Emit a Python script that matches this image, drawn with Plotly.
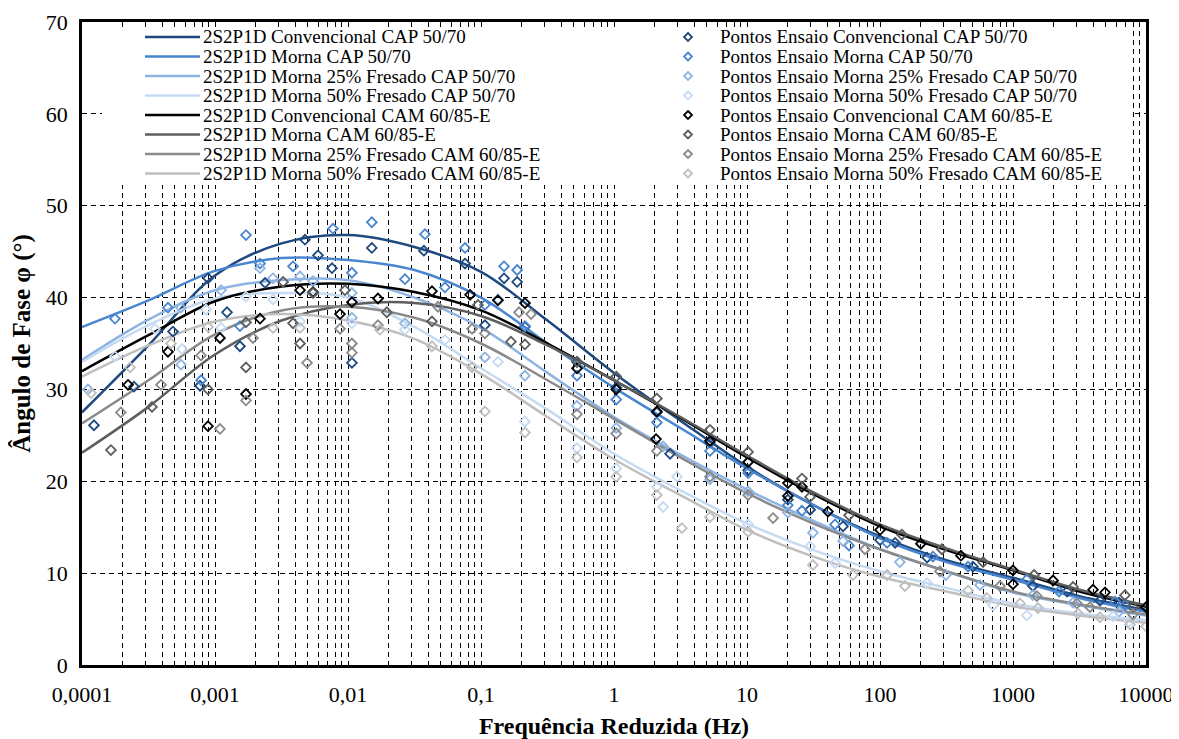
import plotly.graph_objects as go

# ---------------- data ----------------
# model curves (2S2P1D) evaluated at frequencies (Hz)
curve_freq = [1e-4, 3.16e-4, 1e-3, 3.16e-3, 1e-2, 3.16e-2, 1e-1, 3.16e-1, 1, 3.16, 10,
              31.6, 100, 316, 1000, 3160, 10000]
c_conv_cap = [27.5, 34.8, 42.4, 45.9, 46.8, 45.5, 42.8, 37.5, 31.8, 26.6, 21.6, 17.4, 14.0, 11.4, 9.5, 7.5, 6.0]
c_morna_cap = [36.8, 39.7, 42.9, 44.3, 44.1, 43.0, 40.0, 35.0, 30.2, 25.8, 21.4, 17.4, 13.8, 11.2, 9.3, 7.3, 5.8]
c_m25_cap = [33.2, 37.6, 40.8, 41.9, 41.9, 40.0, 36.7, 31.8, 27.0, 22.9, 19.1, 15.7, 12.6, 10.2, 7.9, 6.5, 5.4]
c_m50_cap = [33.0, 37.0, 39.9, 40.5, 40.0, 36.8, 32.3, 27.8, 23.0, 19.0, 15.4, 12.5, 10.2, 8.4, 6.7, 5.6, 4.9]
c_conv_cam = [32.0, 35.9, 39.6, 41.2, 41.5, 40.6, 38.6, 35.0, 31.0, 26.9, 22.6, 18.6, 15.1, 12.5, 10.3, 8.0, 6.35]
c_morna_cam = [23.1, 28.1, 33.8, 37.5, 39.2, 39.4, 38.0, 34.8, 31.0, 27.0, 22.8, 18.8, 15.3, 12.7, 10.4, 8.2, 6.5]
c_m25_cam = [26.3, 31.0, 36.0, 38.6, 39.0, 37.8, 35.0, 31.0, 26.8, 22.6, 18.7, 15.4, 12.6, 10.2, 8.0, 6.6, 5.5]
c_m50_cam = [31.4, 34.8, 37.4, 38.2, 37.5, 35.5, 31.7, 27.0, 22.4, 18.5, 14.7, 11.8, 9.6, 8.0, 6.4, 5.4, 4.6]

# test points
p_conv_cap_f = [1.23e-4, 2.46e-4, 4.83e-4, 7.71e-4, 8.86e-4, 1.23e-3, 1.54e-3, 2.38e-3, 4.75e-3, 5.95e-3,
                7.58e-3, 1.07e-2, 1.51e-2, 3.72e-2, 7.58e-2, 0.107, 0.149, 0.187, 0.214, 0.527,
                1.04, 2.10, 2.64, 5.27, 10.2, 20.3, 29.8, 52.7, 100, 130,
                226, 500, 1410, 2550, 4510, 6270]
p_conv_cap_v = [26.1, 30.3, 36.3, 30.4, 42.1, 38.4, 34.7, 41.6, 46.3, 44.6,
                43.2, 32.9, 45.4, 45.1, 43.7, 37.0, 42.1, 41.7, 36.8, 33.0,
                30.2, 27.5, 23.0, 24.2, 21.2, 18.0, 16.9, 15.1, 13.6, 13.3,
                11.7, 10.7, 8.6, 8.0, 7.0, 6.8]

p_morna_cap_f = [1.77e-4, 4.43e-4, 7.85e-4, 1.54e-3, 1.71e-3, 2.18e-3, 3.86e-3, 7.71e-3, 1.07e-2, 1.51e-2,
                 2.68e-2, 3.79e-2, 5.36e-2, 7.58e-2, 0.107, 0.149, 0.187, 0.214, 0.527, 1.04,
                 2.10, 5.27, 10.2, 20.3, 25.9, 45.9, 58.5, 113, 250, 459,
                 1270, 2220, 5850, 6950]
p_morna_cap_v = [37.7, 38.9, 31.0, 36.9, 46.8, 43.7, 43.4, 47.5, 42.7, 48.2,
                 42.0, 46.9, 41.1, 45.4, 39.2, 43.4, 43.0, 36.9, 31.5, 28.9,
                 26.4, 23.3, 20.9, 17.4, 16.8, 15.3, 13.0, 13.3, 11.8, 10.7,
                 9.3, 8.0, 6.9, 6.5]

p_m25_cap_f = [1.11e-4, 5.55e-4, 5.55e-4, 1.11e-3, 2.18e-3, 2.73e-3, 4.36e-3, 5.46e-3, 1.07e-2, 1.07e-2,
               2.68e-2, 0.134, 0.107, 0.214, 0.527, 1.04, 2.34, 5.27, 10.2, 20.3,
               31.3, 52.7, 141, 313, 565, 1410, 2830, 6270]
p_m25_cap_v = [30.0, 32.7, 38.9, 40.8, 43.2, 42.1, 42.3, 41.8, 40.5, 37.8,
               37.2, 39.8, 33.5, 31.5, 28.2, 25.8, 23.8, 20.2, 18.9, 16.6,
               14.4, 13.5, 11.2, 9.8, 8.7, 7.6, 6.8, 5.8]

p_m50_cap_f = [1.77e-4, 3.54e-4, 5.65e-4, 8.56e-4, 1.11e-3, 1.71e-3, 2.73e-3, 4.36e-3, 1.07e-2, 2.68e-2,
               5.36e-2, 8.56e-2, 0.134, 0.214, 0.527, 1.04, 2.10, 2.34, 2.98, 10.2,
               29.8, 45.9, 113, 226, 708, 1270, 1540, 3080, 5650, 7450]
p_m50_cap_v = [33.6, 36.6, 34.4, 38.7, 36.7, 40.1, 39.8, 37.4, 37.2, 36.5,
               35.4, 32.4, 33.0, 26.5, 23.6, 21.4, 19.4, 17.2, 20.5, 15.3,
               12.9, 11.1, 9.8, 8.9, 6.5, 5.4, 6.2, 5.6, 5.3, 4.7]

p_conv_cam_f = [2.22e-4, 4.43e-4, 8.86e-4, 1.09e-3, 1.71e-3, 2.18e-3, 4.36e-3, 5.46e-3, 8.71e-3, 1.07e-2,
                1.68e-2, 4.28e-2, 8.27e-2, 0.134, 0.214, 0.527, 1.04, 2.10, 2.07, 5.27,
                10.2, 20.3, 20.3, 25.9, 40.6, 100, 203, 406, 1000, 1000,
                2000, 4000, 4920, 10000]
p_conv_cam_v = [30.5, 34.1, 26.0, 35.6, 29.5, 37.7, 40.8, 40.6, 38.2, 39.5,
                39.9, 40.7, 40.3, 39.7, 39.4, 32.3, 30.0, 27.6, 24.6, 24.4,
                22.1, 19.8, 18.4, 19.4, 16.7, 14.7, 13.2, 11.9, 10.3, 8.8,
                9.2, 8.2, 7.9, 6.3]

p_morna_cam_f = [1.65e-4, 3.36e-4, 8.86e-4, 1.71e-3, 1.71e-3, 3.25e-3, 3.86e-3, 4.36e-3, 5.46e-3, 9.49e-3,
                 1.96e-2, 4.28e-2, 9.49e-2, 0.168, 0.214, 0.527, 1.04, 2.10, 5.27, 10.2,
                 25.9, 29.8, 58.5, 146, 292, 595, 1440, 2830, 6950, 7980]
p_morna_cam_v = [23.4, 28.1, 30.0, 37.3, 32.4, 41.7, 37.2, 35.0, 40.5, 40.8,
                 38.4, 37.4, 39.2, 35.2, 34.9, 33.0, 31.4, 29.0, 25.6, 23.2,
                 20.3, 18.3, 16.3, 14.2, 12.6, 11.2, 9.8, 8.5, 7.6, 6.3]

p_m25_cam_f = [1.96e-4, 3.93e-4, 7.85e-4, 1.09e-3, 1.71e-3, 1.93e-3, 4.92e-3, 8.71e-3, 1.07e-2, 1.07e-2,
               1.68e-2, 4.75e-2, 8.56e-2, 0.107, 0.193, 0.238, 0.527, 1.04, 2.10, 5.27,
               10.2, 15.7, 77.1, 282, 798, 1510, 3030, 3790, 7980]
p_m25_cam_v = [27.5, 30.5, 33.7, 25.7, 28.8, 35.6, 32.9, 36.6, 35.0, 34.0,
               37.0, 39.0, 36.6, 36.1, 38.4, 38.2, 27.3, 25.2, 23.3, 20.5,
               18.5, 16.0, 12.6, 10.2, 8.6, 7.5, 6.7, 6.3, 5.5]

p_m50_cam_f = [1.17e-4, 2.30e-4, 4.67e-4, 8.86e-4, 2.73e-3, 4.36e-3, 1.74e-2, 4.28e-2, 8.56e-2, 0.107,
               0.214, 0.527, 1.04, 2.10, 3.24, 5.27, 10.2, 31.3, 62.7, 113,
               154, 459, 634, 1130, 1540, 3080, 4510, 7580, 10000]
p_m50_cam_v = [29.6, 32.4, 35.0, 36.8, 36.7, 36.7, 36.5, 34.7, 32.4, 27.6,
               25.3, 22.6, 20.5, 18.5, 14.9, 16.1, 14.5, 10.9, 9.8, 9.8,
               8.6, 8.1, 7.3, 6.7, 6.2, 5.6, 5.2, 4.4, 4.2]

line_names = ["2S2P1D Convencional CAP 50/70", "2S2P1D Morna CAP 50/70",
              "2S2P1D Morna 25% Fresado CAP 50/70", "2S2P1D Morna 50% Fresado CAP 50/70",
              "2S2P1D Convencional CAM 60/85-E", "2S2P1D Morna CAM 60/85-E",
              "2S2P1D Morna 25% Fresado CAM 60/85-E", "2S2P1D Morna 50% Fresado CAM 60/85-E"]
point_names = ["Pontos Ensaio Convencional CAP 50/70", "Pontos Ensaio Morna CAP 50/70",
               "Pontos Ensaio Morna 25% Fresado CAP 50/70", "Pontos Ensaio Morna 50% Fresado CAP 50/70",
               "Pontos Ensaio Convencional CAM 60/85-E", "Pontos Ensaio Morna CAM 60/85-E",
               "Pontos Ensaio Morna 25% Fresado CAM 60/85-E", "Pontos Ensaio Morna 50% Fresado CAM 60/85-E"]
colors = ["#1F4A80", "#4A86CF", "#8DB4E2", "#C6DAF2", "#000000", "#5E5E5E", "#8A8A8A", "#BFBFBF"]

x_tickvals = [1e-4, 1e-3, 1e-2, 1e-1, 1, 10, 100, 1000, 10000]
x_ticktext = ["0,0001", "0,001", "0,01", "0,1", "1", "10", "100", "1000", "10000"]

curves = [c_conv_cap, c_morna_cap, c_m25_cap, c_m50_cap, c_conv_cam, c_morna_cam, c_m25_cam, c_m50_cam]
points = [(p_conv_cap_f, p_conv_cap_v), (p_morna_cap_f, p_morna_cap_v), (p_m25_cap_f, p_m25_cap_v),
          (p_m50_cap_f, p_m50_cap_v), (p_conv_cam_f, p_conv_cam_v), (p_morna_cam_f, p_morna_cam_v),
          (p_m25_cam_f, p_m25_cam_v), (p_m50_cam_f, p_m50_cam_v)]

FONT = "Liberation Serif, Times New Roman, serif"

# ---------------- layout geometry ----------------
# The page places the figure 8 px in from the window corner (body margin),
# so the figure margins are reduced by 8 px to put the plot area at
# window pixels x 82..1146 and y 22..665.
W, H = 1179, 739
OFF = 8
ML, MR, MT, MB = 82 - OFF, 33 + OFF, 22 - OFF, 74 + OFF
PW, PH = W - ML - MR, H - MT - MB
PLOT_L, PLOT_B = 82, 665   # window pixels of the plot's left / bottom edge


def px(xp):
    return (xp - PLOT_L) / PW


def py(yp):
    return (PLOT_B - yp) / PH


fig = go.Figure()
for name, col, yv in zip(line_names, colors, curves):
    fig.add_trace(go.Scatter(x=curve_freq, y=yv, mode="lines", name=name, showlegend=False,
                             line=dict(color=col, width=2.5, shape="spline", smoothing=1.0)))
for name, col, (fx, fv) in zip(point_names, colors, points):
    fig.add_trace(go.Scatter(x=fx, y=fv, mode="markers", name=name, showlegend=False,
                             marker=dict(symbol="diamond-open", size=7.5, color=col,
                                         line=dict(color=col, width=1.8))))

# ---------------- hand-drawn legend (two columns) ----------------
shapes = [dict(type="rect", xref="paper", yref="paper", x0=px(102), x1=px(1133),
               y0=py(185), y1=py(27), fillcolor="white", line=dict(width=0), layer="above")]
annotations = []
row0, row_gap = 37, 19.5
for i, (ln, pn, col) in enumerate(zip(line_names, point_names, colors)):
    yr = py(row0 + i * row_gap)
    shapes.append(dict(type="line", xref="paper", yref="paper", x0=px(145), x1=px(200),
                       y0=yr, y1=yr, line=dict(color=col, width=2.5), layer="above"))
    shapes.append(dict(type="path", xref="paper", yref="paper", xsizemode="pixel", ysizemode="pixel",
                       xanchor=px(688), yanchor=yr, path="M0,4 L4,0 L0,-4 L-4,0 Z",
                       fillcolor="white", line=dict(color=col, width=1.8), layer="above"))
    annotations.append(dict(xref="paper", yref="paper", x=px(201), y=yr, xanchor="left",
                            yanchor="middle", text=ln, showarrow=False,
                            font=dict(family=FONT, size=19, color="black")))
    annotations.append(dict(xref="paper", yref="paper", x=px(718), y=yr, xanchor="left",
                            yanchor="middle", text=pn, showarrow=False,
                            font=dict(family=FONT, size=19, color="black")))

minor_vals = [m * 10 ** e for e in range(-4, 4) for m in range(2, 10)]

fig.update_layout(
    width=W, height=H,
    margin=dict(l=ML, r=MR, t=MT, b=MB, autoexpand=False),
    paper_bgcolor="white", plot_bgcolor="white",
    font=dict(family=FONT, color="black", size=22),
    showlegend=False,
    shapes=shapes, annotations=annotations,
)

fig.update_xaxes(
    type="log", range=[-4, 4], automargin=False,
    tickmode="array", tickvals=x_tickvals, ticktext=x_ticktext,
    showgrid=True, gridcolor="black", gridwidth=1, griddash="5px,4px",
    minor=dict(tickmode="array", tickvals=minor_vals, showgrid=True,
               gridcolor="black", gridwidth=1, griddash="5px,4px", ticks=""),
    showline=True, linecolor="black", linewidth=2.5, mirror=True,
    ticks="", ticklabelstandoff=8, zeroline=False,
    tickfont=dict(family=FONT, size=22),
    title=dict(text="<b>Frequência Reduzida (Hz)</b>", font=dict(family=FONT, size=24), standoff=12),
)
fig.update_yaxes(
    range=[0, 70], automargin=False, tickmode="array", tickvals=[0, 10, 20, 30, 40, 50, 60, 70],
    showgrid=True, gridcolor="black", gridwidth=1, griddash="5px,4px",
    showline=True, linecolor="black", linewidth=2.5, mirror=True,
    ticks="", ticklabelstandoff=7, zeroline=False,
    tickfont=dict(family=FONT, size=22),
    title=dict(text="<b>Ângulo de Fase φ (°)</b>", font=dict(family=FONT, size=25), standoff=9),
)

fig.write_html("out.html")
